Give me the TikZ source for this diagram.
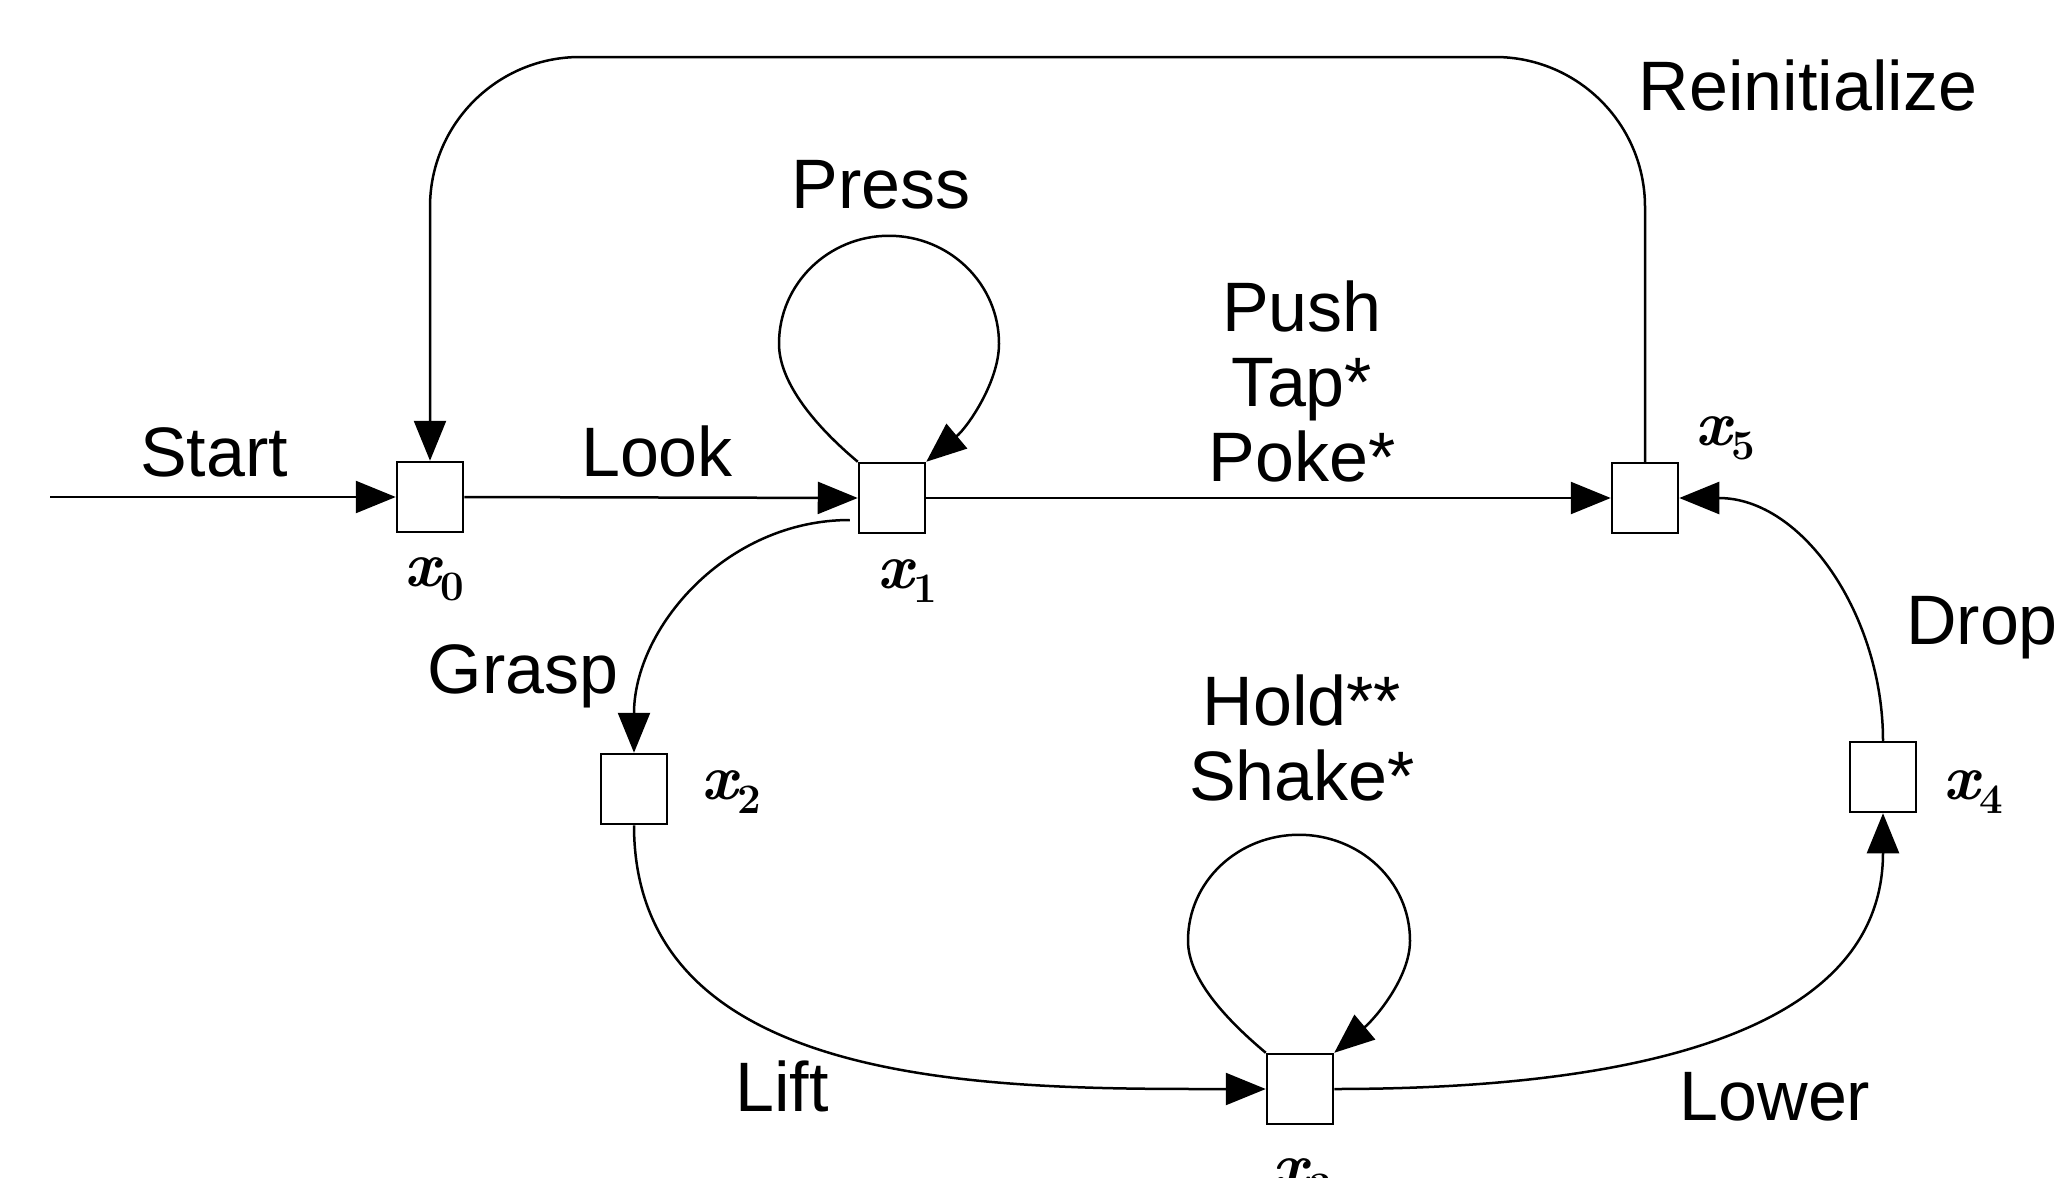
\documentclass[tikz,border=0pt]{standalone}
\usepackage{fontspec}
\newfontfamily\labfont{Liberation Sans}
\usetikzlibrary{arrows.meta,calc}
\newcommand{\stlab}[1]{\bfseries\itshape x\raisebox{-0.22em}{\upshape\fontsize{42}{42}\selectfont #1}}
\tikzset{
  box/.style={draw, line width=2.5pt, minimum width=66pt, minimum height=70pt, inner sep=0pt},
  conn/.style={line width=2.5pt, -{Triangle[length=40pt,width=32pt]}},
  lab/.style={font=\labfont\fontsize{70}{75}\selectfont, align=center, inner sep=0pt},
  st/.style={font=\fontsize{64}{70}\selectfont, inner sep=0pt}
}
\begin{document}
\begin{tikzpicture}[x=1pt,y=1pt]
\useasboundingbox (0,0) rectangle (2062,-1178);
\fill[white] (0,0) rectangle (2062,-1178);
% states
\node[box] (x0) at (430,-497) {};
\node[box] (x1) at (892,-498) {};
\node[box] (x5) at (1645,-498) {};
\node[box] (x2) at (634,-789) {};
\node[box] (x3) at (1300,-1089) {};
\node[box] (x4) at (1883,-777) {};
% state labels
\node[st] (l0) at (434,-579) {\stlab{0}};
\node[st] (l1) at (907,-581) {\stlab{1}};
\node[st] (l5) at (1725,-438) {\stlab{5}};
\node[st] (l2) at (731,-792) {\stlab{2}};
\node[st] (l4) at (1973,-792) {\stlab{4}};
\node[st] (l3) at (1302,-1180) {\stlab{3}};
% action labels
\node[lab, anchor=base] (tstart) at (214,-476) {Start};
\node[lab, anchor=base] (tlook) at (657,-476) {Look};
\node[lab, anchor=base] (tpress) at (881,-208) {Press};
\node[lab, anchor=base] (treinit) at (1808,-110) {Reinitialize};
\node[lab] (tpush) at (1302,-381) {Push\\Tap*\\Poke*};
\node[lab, anchor=base] (tgrasp) at (523,-693) {Grasp};
\node[lab] (thold) at (1302,-738) {Hold**\\Shake*};
\node[lab, anchor=base] (tdrop) at (1982,-644) {Drop};
\node[lab, anchor=base] (tlift) at (782,-1111) {Lift};
\node[lab, anchor=base] (tlower) at (1775,-1120) {Lower};
% helper coordinates
\coordinate (s) at (50,-497);
\coordinate (topc) at (1000,-57);
% connectors
\draw[conn] (s) -- (x0.west);
\draw[conn] (x0.east) -- (x1.west);
\draw[conn] (x1.east) -- (x5.west);
\draw[conn] (x1.north west) to[out=140,in=-90,in looseness=0.7] ($(x1.north)+(-113,118)$)
  to[out=90,in=180] ($(x1.north)+(-3,226)$)
  to[out=0,in=90] ($(x1.north)+(107,118)$)
  to[out=-90,in=40,out looseness=0.7] (x1.north east);
\draw[conn] (x3.north west) to[out=140,in=-90,in looseness=0.7] ($(x3.north)+(-112,112)$)
  to[out=90,in=180] ($(x3.north)+(-1,218)$)
  to[out=0,in=90] ($(x3.north)+(110,112)$)
  to[out=-90,in=40,out looseness=0.7] (x3.north east);
\draw[conn, rounded corners=150pt] (x5.north) |- (topc) -| (x0.north);
\draw[conn] ($(x1.west)+(-8,-22)$) to[out=180,in=90] (x2.north);
\draw[conn] (x2.south) to[out=-90,in=180] (x3.west);
\draw[conn] (x3.east) to[out=0,in=-90] (x4.south);
\draw[conn] (x4.north) to[out=90,in=0] (x5.east);
\end{tikzpicture}
\end{document}
